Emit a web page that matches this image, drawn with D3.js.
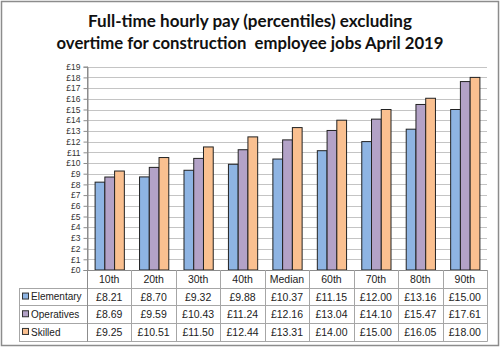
<!DOCTYPE html>
<html>
<head>
<meta charset="utf-8">
<script src="https://cdn.jsdelivr.net/npm/d3@7"></script>
<style>
  html, body { margin: 0; padding: 0; background: #fff; }
  svg { display: block; font-family: "Liberation Sans", Arial, sans-serif; }
</style>
</head>
<body>
<svg id="chart" width="500" height="347"></svg>
<script>
// Percentile categories shown along the x axis and as table columns
const categories = ["10th", "20th", "30th", "40th", "Median", "60th", "70th", "80th", "90th"];
// Occupation groups (series)
const seriesNames = ["Elementary", "Operatives", "Skilled"];
// Hourly pay values (£) per series, in category order
const elementary = [8.21, 8.70, 9.32, 9.88, 10.37, 11.15, 12.00, 13.16, 15.00];
const operatives = [8.69, 9.59, 10.43, 11.24, 12.16, 13.04, 14.10, 15.47, 17.61];
const skilled    = [9.25, 10.51, 11.50, 12.44, 13.31, 14.00, 15.00, 16.05, 18.00];
// Y axis tick values
const yTicks = d3.range(0, 20);
const titleLines = [
  "Full-time hourly pay (percentiles) excluding",
  "overtime for construction  employee jobs April 2019"
];

const seriesValues = [elementary, operatives, skilled];
const colors = ["#8EB4E3", "#B3A2C7", "#FAC090"];

const svg = d3.select("#chart");
const W = 500, H = 347;

// Outer frame
svg.append("rect")
  .attr("x", 1.5).attr("y", 1.5)
  .attr("width", W - 3).attr("height", H - 3)
  .attr("fill", "#fff").attr("stroke", "#8c8c8c").attr("stroke-width", 1.5);

// Title
const titleW = [324, 387];
svg.append("g").selectAll("text")
  .data(titleLines)
  .join("text")
  .attr("x", W / 2)
  .attr("y", (d, i) => 27 + i * 21.5)
  .attr("text-anchor", "middle")
  .attr("font-family", "Lato, 'Liberation Sans', Arial, sans-serif")
  .attr("font-size", 17.5)
  .attr("font-weight", "bold")
  .attr("fill", "#111")
  .attr("textLength", (d, i) => titleW[i])
  .attr("lengthAdjust", "spacingAndGlyphs")
  .style("white-space", "pre")
  .text(d => d);

// Plot geometry
const plotLeft = 87, plotRight = 487, plotTop = 66.7, plotBottom = 270;
const x0 = d3.scaleBand().domain(categories).range([plotLeft, plotRight]).padding(0);
const x1 = d3.scaleBand().domain(seriesNames)
  .range([7.6, x0.bandwidth() - 7.6]).padding(0);
const y = d3.scaleLinear().domain([0, 19]).range([plotBottom, plotTop]);

// Gridlines
svg.append("g").selectAll("line")
  .data(yTicks.filter(d => d > 0))
  .join("line")
  .attr("x1", plotLeft).attr("x2", plotRight)
  .attr("y1", d => Math.round(y(d)) + 0.5).attr("y2", d => Math.round(y(d)) + 0.5)
  .attr("stroke", "#c4c4c4").attr("stroke-width", 1);

// Y axis
const yAxis = svg.append("g")
  .attr("transform", `translate(${plotLeft + 0.5},0)`)
  .call(d3.axisLeft(y).tickValues(yTicks).tickSize(4).tickPadding(3)
    .tickFormat(d => "£" + d));
yAxis.select(".domain").attr("stroke", "#8c8c8c");
yAxis.selectAll(".tick line").attr("stroke", "#8c8c8c");
yAxis.selectAll(".tick text")
  .attr("font-size", 8.5).attr("fill", "#333")
  .attr("font-family", "'Liberation Sans', Arial, sans-serif");

// Bars
const groups = svg.append("g").selectAll("g")
  .data(categories)
  .join("g")
  .attr("transform", d => `translate(${x0(d)},0)`);

groups.selectAll("rect")
  .data((c, ci) => seriesNames.map((s, si) => ({ s, si, v: seriesValues[si][ci] })))
  .join("rect")
  .attr("x", d => x1(d.s) + 0.5)
  .attr("y", d => y(d.v))
  .attr("width", x1.bandwidth())
  .attr("height", d => plotBottom - y(d.v))
  .attr("fill", d => colors[d.si])
  .attr("stroke", "#222")
  .attr("stroke-width", 1);

// Data table below the axis
const rowH = 17.7;
const tableLeft = 19;
const lineColor = "#a6a6a6";
const table = svg.append("g");

// Header row (category names)
table.selectAll("text.cat")
  .data(categories)
  .join("text")
  .attr("class", "cat")
  .attr("x", d => x0(d) + x0.bandwidth() / 2)
  .attr("y", plotBottom + rowH / 2 + 4)
  .attr("text-anchor", "middle")
  .attr("font-size", 10.5)
  .attr("fill", "#222")
  .text(d => d);

// Value cells
seriesNames.forEach((s, si) => {
  const cy = plotBottom + rowH * (si + 1) + rowH / 2;
  table.append("g").selectAll("text")
    .data(categories)
    .join("text")
    .attr("x", d => x0(d) + x0.bandwidth() / 2)
    .attr("y", cy + 4)
    .attr("text-anchor", "middle")
    .attr("font-size", 10.5)
    .attr("fill", "#222")
    .text((d, ci) => "£" + seriesValues[si][ci].toFixed(2));

  // Legend key and series name
  table.append("rect")
    .attr("x", tableLeft + 3.5).attr("y", cy - 3.5)
    .attr("width", 6).attr("height", 6)
    .attr("fill", colors[si]).attr("stroke", "#333").attr("stroke-width", 1);
  table.append("text")
    .attr("x", tableLeft + 12).attr("y", cy + 3.8)
    .attr("font-size", 10).attr("fill", "#222")
    .text(s);
});

// Table grid lines
const tableBottom = plotBottom + rowH * 4;
// horizontal lines
[0, 1, 2, 3, 4].forEach(r => {
  const yy = Math.round(plotBottom + rowH * r) + 0.5;
  table.append("line")
    .attr("x1", r === 0 ? plotLeft : tableLeft).attr("x2", plotRight + 0.5)
    .attr("y1", yy).attr("y2", yy)
    .attr("stroke", r === 0 ? "#8c8c8c" : lineColor);
});
// vertical lines at category boundaries
const vx = categories.map(c => x0(c)).concat([plotRight]);
table.selectAll("line.v")
  .data(vx)
  .join("line")
  .attr("class", "v")
  .attr("x1", d => Math.round(d) + 0.5).attr("x2", d => Math.round(d) + 0.5)
  .attr("y1", (d, i) => i === 0 ? plotTop : plotBottom).attr("y2", Math.round(tableBottom) + 0.5)
  .attr("stroke", (d, i) => i === 0 ? "#8c8c8c" : lineColor);
// left edge of legend column
table.append("line")
  .attr("x1", tableLeft + 0.5).attr("x2", tableLeft + 0.5)
  .attr("y1", Math.round(plotBottom + rowH) + 0.5).attr("y2", Math.round(tableBottom) + 0.5)
  .attr("stroke", lineColor);
</script>
</body>
</html>
